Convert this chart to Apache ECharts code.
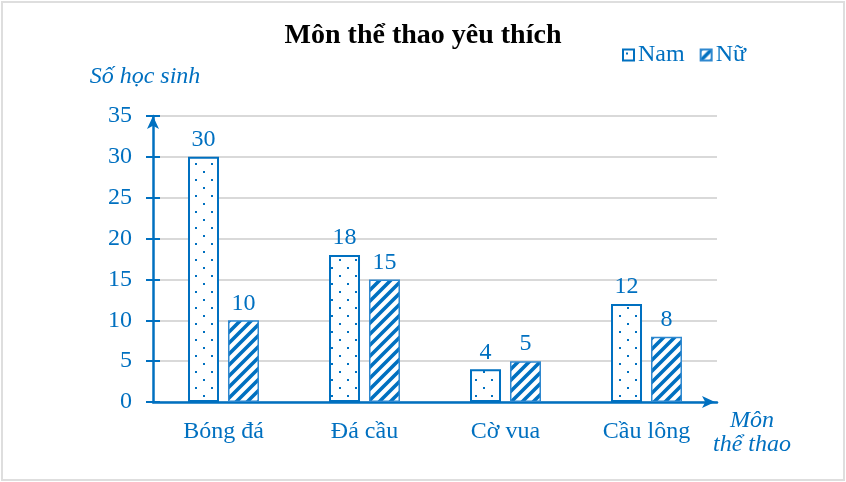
<!DOCTYPE html>
<html>
<head>
<meta charset="utf-8">
<script src="https://cdn.jsdelivr.net/npm/echarts@6/dist/echarts.min.js"></script>
<style>
html,body{margin:0;padding:0;background:#fff;}
#wrap{position:relative;width:846px;height:482px;}
#chart{position:absolute;left:0;top:0;width:846px;height:482px;}
#frame{position:absolute;left:1px;top:1px;width:840px;height:476px;border:2px solid #dedede;pointer-events:none;}
</style>
</head>
<body>
<div id="wrap"><div id="chart"></div><div id="frame"></div></div>
<script>
const categories = ['Bóng đá', 'Đá cầu', 'Cờ vua', 'Cầu lông'];
const namValues = [30, 18, 4, 12];
const nuValues = [10, 15, 5, 8];
const seriesNames = ['Nam', 'Nữ'];
const yMin = 0, yMax = 35, yStep = 5;

const BLUE = '#0070C0';
const FONT = '"Liberation Serif", "Times New Roman", serif';

function dotPattern() {
  const c = document.createElement('canvas');
  c.width = 16; c.height = 16;
  const g = c.getContext('2d');
  g.fillStyle = '#fff'; g.fillRect(0, 0, 16, 16);
  g.fillStyle = BLUE;
  g.fillRect(3, 3, 2, 2);
  g.fillRect(11, 11, 2, 2);
  return c;
}
function stripePattern() {
  const s = 11;
  const c = document.createElement('canvas');
  c.width = s; c.height = s;
  const g = c.getContext('2d');
  g.fillStyle = '#fff'; g.fillRect(0, 0, s, s);
  g.strokeStyle = BLUE; g.lineWidth = 3.6;
  g.beginPath();
  g.moveTo(-2, s + 2); g.lineTo(s + 2, -2);
  g.moveTo(-2, 2); g.lineTo(2, -2);
  g.moveTo(s - 2, s + 2); g.lineTo(s + 2, s - 2);
  g.stroke();
  return c;
}

const chart = echarts.init(document.getElementById('chart'), null, {renderer: 'canvas'});
const option = {
  backgroundColor: '#fff',
  animation: false,
  title: {
    text: 'Môn thể thao yêu thích',
    left: 'center', top: 17,
    textStyle: {fontFamily: FONT, fontWeight: 'bold', fontSize: 28, color: '#000'}
  },
  legend: {
    data: seriesNames,
    left: 617, top: 38,
    icon: 'rect', itemWidth: 11, itemHeight: 11, itemGap: 15,
    textStyle: {fontFamily: FONT, fontSize: 24, color: BLUE, padding: [0, 0, 0, -1]}
  },
  grid: {left: 153, right: 129, top: 116, bottom: 80, containLabel: false},
  xAxis: {
    type: 'category',
    data: categories,
    name: 'Môn\nthể thao',
    nameLocation: 'end',
    nameGap: 35,
    nameTextStyle: {fontFamily: FONT, fontStyle: 'italic', fontSize: 24, color: BLUE,
      align: 'center', verticalAlign: 'top', lineHeight: 24, padding: [7, 0, 0, 0]},
    axisLine: {lineStyle: {color: BLUE, width: 2.5}, symbol: ['none', 'arrow'], symbolSize: [9, 13], symbolOffset: [0, -2]},
    axisTick: {alignWithLabel: true, length: 7, lineStyle: {color: BLUE, width: 2}},
    axisLabel: {fontFamily: FONT, fontSize: 24, color: BLUE, margin: 18},
    splitLine: {show: false}
  },
  yAxis: [{
    type: 'value',
    min: yMin, max: yMax, interval: yStep,
    name: 'Số học sinh',
    nameLocation: 'end',
    nameGap: 27,
    nameTextStyle: {fontFamily: FONT, fontStyle: 'italic', fontSize: 24, color: BLUE,
      align: 'center', padding: [0, 16, 0, 0]},
    axisLine: {show: true, lineStyle: {color: BLUE, width: 2.5}, symbol: ['none', 'arrow'], symbolSize: [9, 13], symbolOffset: [0, 0]},
    axisTick: {show: true, length: 7, lineStyle: {color: BLUE, width: 2}},
    axisLabel: {fontFamily: FONT, fontSize: 24, color: BLUE, margin: 21},
    splitLine: {show: true, lineStyle: {color: '#d9d9d9', width: 2}}
  }, {
    type: 'value',
    min: yMin, max: yMax, interval: yStep,
    position: 'left',
    axisLine: {show: false},
    axisTick: {show: true, inside: true, length: 7, lineStyle: {color: BLUE, width: 2}},
    axisLabel: {show: false},
    splitLine: {show: false}
  }],
  series: [{
    name: seriesNames[0],
    type: 'bar',
    data: namValues,
    barWidth: 31,
    barGap: '29%',
    itemStyle: {color: {image: dotPattern(), repeat: 'repeat'}, borderColor: BLUE, borderWidth: 2},
    label: {show: true, position: 'top', distance: 5, fontFamily: FONT, fontSize: 24, color: BLUE}
  }, {
    name: seriesNames[1],
    type: 'bar',
    data: nuValues,
    barWidth: 31,
    itemStyle: {color: {image: stripePattern(), repeat: 'repeat'}, borderColor: '#2F88CF', borderWidth: 1.5},
    label: {show: true, position: 'top', distance: 5, fontFamily: FONT, fontSize: 24, color: BLUE}
  }]
};
chart.setOption(option);
</script>
</body>
</html>
